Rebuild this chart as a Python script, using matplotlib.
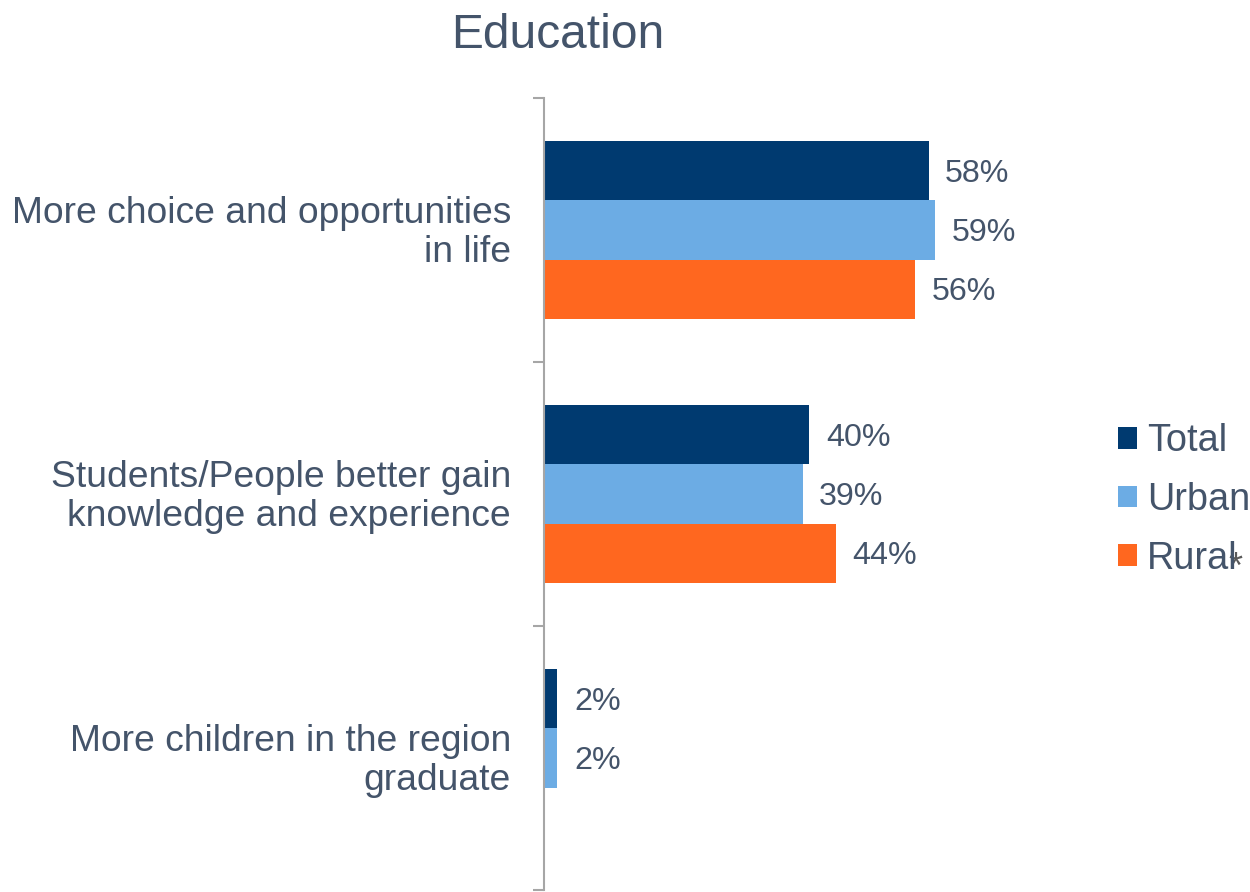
import numpy as np
import matplotlib
matplotlib.use("Agg")
import matplotlib.pyplot as plt
from matplotlib.patches import Patch

categories = [
    "More choice and opportunities\nin life",
    "Students/People better gain\nknowledge and experience",
    "More children in the region\ngraduate",
]
series_names = ["Total", "Urban", "Rural"]
total = [58, 40, 2]
urban = [59, 39, 2]
rural = [56, 44, None]
series_values = [total, urban, rural]
colors = ["#003A70", "#6CACE4", "#FF671F"]

text_color = "#44546A"
plt.rcParams["font.family"] = ["Liberation Sans", "DejaVu Sans"]

fig = plt.figure(figsize=(12.5, 8.92), dpi=100)
ax = fig.add_axes([544 / 1250, 2 / 892, 546 / 1250, 792 / 892])

bar_h = 0.2235
offsets = [-bar_h, 0.0, bar_h]
for vals, off, col in zip(series_values, offsets, colors):
    for i, v in enumerate(vals):
        if v is None:
            continue
        ax.barh(i + off, v, height=bar_h, color=col, edgecolor="none")
        ax.annotate(f"{v}%", xy=(v, i + off), xytext=(12, -2.5),
                    textcoords="offset points", va="center", ha="left",
                    fontsize=23.2, color=text_color)

ax.set_xlim(0, 546 / 6.63)
ax.set_ylim(len(categories) - 0.5, -0.5)

for s in ["top", "right", "bottom"]:
    ax.spines[s].set_visible(False)
ax.spines["left"].set_color("#A6A6A6")
ax.spines["left"].set_linewidth(1.5)
ax.set_xticks([])
ax.set_yticks(np.arange(len(categories) + 1) - 0.5)
ax.set_yticklabels([])
ax.tick_params(axis="y", length=8, width=1.5, color="#A6A6A6", direction="out")

ytrans = ax.get_yaxis_transform()
for i, cat in enumerate(categories):
    ax.annotate(cat, xy=(0, i), xycoords=ytrans, xytext=(-23.8, -2.0),
                textcoords="offset points", ha="right", va="center",
                fontsize=26.8, color=text_color, linespacing=1.14)

fig.text(558 / 1250, 1 - 36 / 892, "Education", ha="center", va="center",
         fontsize=34.5, color=text_color)

handles = [Patch(facecolor=c, edgecolor="none") for c in colors]
leg = fig.legend(handles, series_names, loc="center left",
                 bbox_to_anchor=(1118 / 1250, 1 - 500 / 892), frameon=False,
                 fontsize=27.3, handlelength=0.5, handleheight=0.5,
                 handletextpad=0.27, labelspacing=0.6, borderpad=0.0,
                 borderaxespad=0.0)
for t in leg.get_texts():
    t.set_color(text_color)

fig.text(1235 / 1250, 1 - 578 / 892, "*", ha="center", va="baseline",
         fontsize=26, color="#595959")

fig.savefig("out.png", dpi=100, facecolor="white")
